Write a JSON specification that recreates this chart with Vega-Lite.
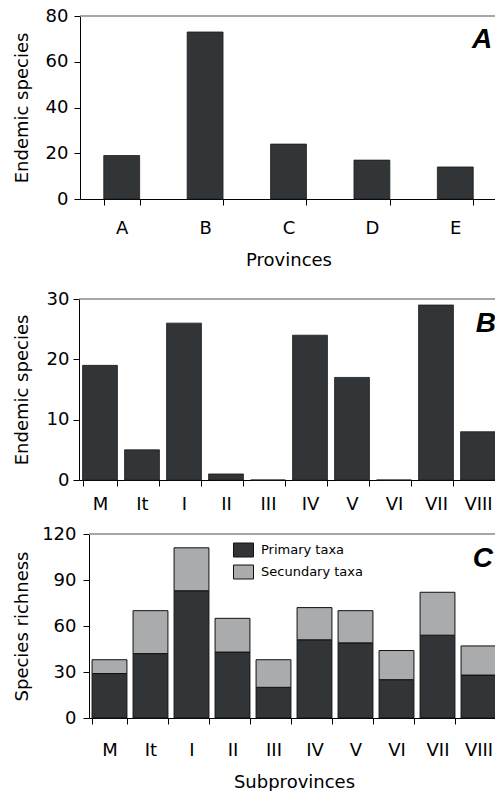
{
  "$schema": "https://vega.github.io/schema/vega-lite/v6.json",
  "padding": {"left": 12, "top": 7, "right": 0, "bottom": 0},
  "spacing": 21,
  "resolve": {"scale": {"color": "independent"}, "legend": {"color": "independent"}},
  "config": {
    "view": {"stroke": null},
    "axis": {
      "labelFont": "DejaVu Sans", "labelFontSize": 18, "labelColor": "#000",
      "titleFont": "DejaVu Sans", "titleFontSize": 18, "titleFontWeight": "normal", "titleColor": "#000",
      "domainColor": "#000", "domainWidth": 1, "tickColor": "#000", "tickSize": 6, "grid": false
    },
    "legend": {"labelFont": "DejaVu Sans", "labelFontSize": 13, "labelColor": "#000"}
  },
  "datasets": {
    "none": [],
    "prov": [
      {"province": "A", "endemic": 19},
      {"province": "B", "endemic": 73},
      {"province": "C", "endemic": 24},
      {"province": "D", "endemic": 17},
      {"province": "E", "endemic": 14}
    ],
    "sub": [
      {"sub": "M", "endemic": 19},
      {"sub": "It", "endemic": 5},
      {"sub": "I", "endemic": 26},
      {"sub": "II", "endemic": 1},
      {"sub": "III", "endemic": 0},
      {"sub": "IV", "endemic": 24},
      {"sub": "V", "endemic": 17},
      {"sub": "VI", "endemic": 0},
      {"sub": "VII", "endemic": 29},
      {"sub": "VIII", "endemic": 8}
    ],
    "rich": [
      {"sub": "M", "taxa": "Primary taxa", "ord": 1, "n": 29},
      {"sub": "M", "taxa": "Secundary taxa", "ord": 2, "n": 9},
      {"sub": "It", "taxa": "Primary taxa", "ord": 1, "n": 42},
      {"sub": "It", "taxa": "Secundary taxa", "ord": 2, "n": 28},
      {"sub": "I", "taxa": "Primary taxa", "ord": 1, "n": 83},
      {"sub": "I", "taxa": "Secundary taxa", "ord": 2, "n": 28},
      {"sub": "II", "taxa": "Primary taxa", "ord": 1, "n": 43},
      {"sub": "II", "taxa": "Secundary taxa", "ord": 2, "n": 22},
      {"sub": "III", "taxa": "Primary taxa", "ord": 1, "n": 20},
      {"sub": "III", "taxa": "Secundary taxa", "ord": 2, "n": 18},
      {"sub": "IV", "taxa": "Primary taxa", "ord": 1, "n": 51},
      {"sub": "IV", "taxa": "Secundary taxa", "ord": 2, "n": 21},
      {"sub": "V", "taxa": "Primary taxa", "ord": 1, "n": 49},
      {"sub": "V", "taxa": "Secundary taxa", "ord": 2, "n": 21},
      {"sub": "VI", "taxa": "Primary taxa", "ord": 1, "n": 25},
      {"sub": "VI", "taxa": "Secundary taxa", "ord": 2, "n": 19},
      {"sub": "VII", "taxa": "Primary taxa", "ord": 1, "n": 54},
      {"sub": "VII", "taxa": "Secundary taxa", "ord": 2, "n": 28},
      {"sub": "VIII", "taxa": "Primary taxa", "ord": 1, "n": 28},
      {"sub": "VIII", "taxa": "Secundary taxa", "ord": 2, "n": 19}
    ]
  },
  "vconcat": [
    {
      "spacing": 0,
      "hconcat": [
        {"width": 1, "height": 1, "data": {"name": "none"}, "mark": {"type": "point", "opacity": 0}, "encoding": {}},
        {
          "width": 417, "height": 183,
          "layer": [
            {
              "data": {"name": "prov"},
              "mark": {"type": "bar", "fill": "#323538", "stroke": "#1a1a1a", "strokeWidth": 0.8},
              "encoding": {
                "x": {"field": "province", "type": "nominal", "sort": null,
                      "scale": {"paddingInner": 0.57, "paddingOuter": 0.285},
                      "axis": {"title": "Provinces", "labelAngle": 0, "tickBand": "extent", "labelPadding": 14, "titlePadding": 14}},
                "y": {"field": "endemic", "type": "quantitative",
                      "scale": {"domain": [0, 80], "nice": false},
                      "axis": {"title": "Endemic species", "values": [0, 20, 40, 60, 80], "labelPadding": 6, "titlePadding": 14}}
              }
            },
            {
              "data": {"values": [{"letter": "A"}]},
              "mark": {"type": "rule", "color": "#888", "strokeWidth": 1.5},
              "encoding": {"y": {"datum": 80}}
            },
            {
              "data": {"values": [{"letter": "A"}]},
              "mark": {"type": "text", "font": "Liberation Sans", "fontSize": 28, "fontWeight": "bold", "fontStyle": "italic", "color": "#000", "align": "right", "baseline": "alphabetic", "dx": 37},
              "encoding": {"x": {"datum": "E"}, "y": {"datum": 66}, "text": {"field": "letter"}}
            }
          ]
        }
      ]
    },
    {
      "spacing": 12,
      "resolve": {"scale": {"color": "independent"}, "legend": {"color": "independent"}},
      "vconcat": [
        {
          "spacing": 0,
          "hconcat": [
            {"width": 1, "height": 1, "data": {"name": "none"}, "mark": {"type": "point", "opacity": 0}, "encoding": {}},
            {
              "width": 420, "height": 181,
              "layer": [
                {
                  "data": {"name": "sub"},
                  "mark": {"type": "bar", "fill": "#323538", "stroke": "#1a1a1a", "strokeWidth": 0.8},
                  "encoding": {
                    "x": {"field": "sub", "type": "nominal", "sort": null,
                          "scale": {"paddingInner": 0.17, "paddingOuter": 0.085},
                          "axis": {"title": null, "labelAngle": 0, "tickBand": "extent", "labelPadding": 9}},
                    "y": {"field": "endemic", "type": "quantitative",
                          "scale": {"domain": [0, 30], "nice": false},
                          "axis": {"title": "Endemic species", "values": [0, 10, 20, 30], "labelPadding": 4, "titlePadding": 15}}
                  }
                },
                {
                  "data": {"values": [{"letter": "B"}]},
                  "mark": {"type": "rule", "color": "#888", "strokeWidth": 1.5},
                  "encoding": {"y": {"datum": 30}}
                },
                {
                  "data": {"values": [{"letter": "B"}]},
                  "mark": {"type": "text", "font": "Liberation Sans", "fontSize": 28, "fontWeight": "bold", "fontStyle": "italic", "color": "#000", "align": "right", "baseline": "alphabetic", "dx": 18},
                  "encoding": {"x": {"datum": "VIII"}, "y": {"datum": 24.5}, "text": {"field": "letter"}}
                }
              ]
            }
          ]
        },
        {
          "spacing": 0,
          "resolve": {"scale": {"color": "independent"}, "legend": {"color": "independent"}},
          "hconcat": [
            {"width": 1, "height": 1, "data": {"name": "none"}, "mark": {"type": "point", "opacity": 0}, "encoding": {}},
            {
              "width": 410, "height": 184,
              "layer": [
                {
                  "data": {"name": "rich"},
                  "mark": {"type": "bar", "stroke": "#111", "strokeWidth": 1},
                  "encoding": {
                    "x": {"field": "sub", "type": "nominal", "sort": null,
                          "scale": {"paddingInner": 0.15, "paddingOuter": 0.075},
                          "axis": {"title": "Subprovinces", "labelAngle": 0, "tickBand": "extent", "labelPadding": 17, "titlePadding": 14}},
                    "y": {"field": "n", "type": "quantitative", "stack": "zero",
                          "scale": {"domain": [0, 120], "nice": false},
                          "axis": {"title": "Species richness", "values": [0, 30, 60, 90, 120], "labelPadding": 7, "titlePadding": 10}},
                    "color": {"field": "taxa", "type": "nominal",
                              "scale": {"domain": ["Primary taxa", "Secundary taxa"], "range": ["#323538", "#a9abad"]},
                              "legend": {"title": null, "orient": "none", "legendX": 147, "legendY": 8.5,
                                         "symbolType": "M-1.43,-1H1.43V1H-1.43Z", "symbolSize": 196,
                                         "symbolStrokeColor": "#111", "symbolStrokeWidth": 1, "symbolOpacity": 1,
                                         "rowPadding": 3, "labelOffset": 10, "padding": 0}},
                    "order": {"field": "ord", "type": "quantitative"}
                  }
                },
                {
                  "data": {"values": [{"letter": "C"}]},
                  "mark": {"type": "rule", "color": "#888", "strokeWidth": 1.5},
                  "encoding": {"y": {"datum": 120}}
                },
                {
                  "data": {"values": [{"letter": "C"}]},
                  "mark": {"type": "text", "font": "Liberation Sans", "fontSize": 28, "fontWeight": "bold", "fontStyle": "italic", "color": "#000", "align": "right", "baseline": "alphabetic", "dx": 14.5},
                  "encoding": {"x": {"datum": "VIII"}, "y": {"datum": 98.5}, "text": {"field": "letter"}}
                }
              ]
            }
          ]
        }
      ]
    }
  ]
}
